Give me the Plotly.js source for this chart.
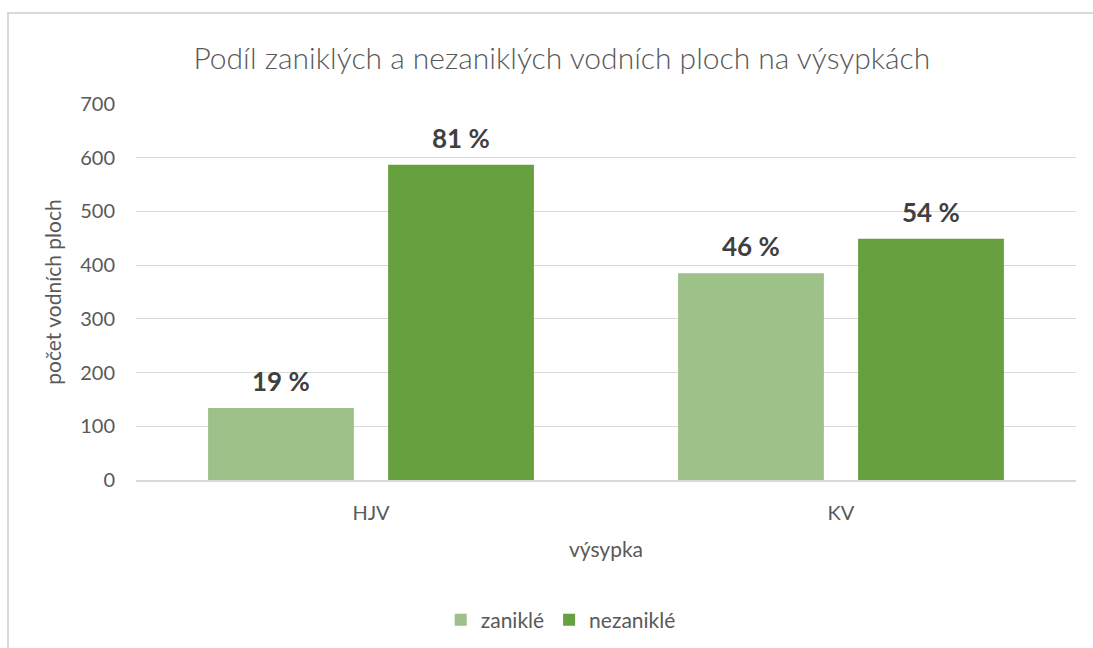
<!DOCTYPE html>
<html>
<head>
<meta charset="utf-8">
<script src="https://cdn.plot.ly/plotly-3.0.1.min.js"></script>
<style>
html,body{margin:0;padding:0;overflow:hidden;background:#fff;}
#wrap{position:relative;width:1093px;height:648px;}
#chart{position:absolute;left:0;top:0;width:1093px;height:648px;}
#frame{position:absolute;left:7px;top:12px;width:1200px;height:1000px;border-left:2px solid #d9d9d9;border-top:2px solid #d9d9d9;pointer-events:none;}
</style>
</head>
<body>
<div id="wrap"><div id="chart"></div><div id="frame"></div></div>
<script>
const categories = ["HJV", "KV"];
const zanikle = [134, 385];
const nezanikle = [587, 449];
const zanikleLabels = ["19 %", "46 %"];
const nezanikleLabels = ["81 %", "54 %"];
const yTicks = [0, 100, 200, 300, 400, 500, 600, 700];

const FONT = "Lato, 'Open Sans', sans-serif";
const labelFont = {family: FONT, size: 26, color: "#404040", weight: 700};
const GREY = "#595959";

const traces = [
  {
    type: "bar", name: "zaniklé", x: categories, y: zanikle,
    marker: {color: "#9dc189"}, hoverinfo: "skip"
  },
  {
    type: "bar", name: "nezaniklé", x: categories, y: nezanikle,
    marker: {color: "#66a03f"}, hoverinfo: "skip"
  }
];

// data labels placed above each bar (offset to the bar's slot within its group)
const annotations = [];
categories.forEach((c, i) => {
  annotations.push({x: c, y: zanikle[i], xref: "x", yref: "y", text: zanikleLabels[i],
    showarrow: false, xshift: -90, yshift: 27, yanchor: "middle", font: labelFont});
  annotations.push({x: c, y: nezanikle[i], xref: "x", yref: "y", text: nezanikleLabels[i],
    showarrow: false, xshift: 90, yshift: 27, yanchor: "middle", font: labelFont});
});

const layout = {
  width: 1093, height: 648,
  margin: {l: 136, r: 17, t: 104, b: 168},
  paper_bgcolor: "#ffffff", plot_bgcolor: "#ffffff",
  font: {family: FONT, color: GREY, size: 20},
  title: {
    text: "Podíl zaniklých a nezaniklých vodních ploch na výsypkách",
    font: {family: FONT, size: 30, color: GREY, weight: 300},
    x: 0.514, xref: "container", xanchor: "center",
    y: 0.91, yref: "container", yanchor: "middle"
  },
  barmode: "group",
  bargap: 0.234,
  bargroupgap: 0.19,
  xaxis: {
    type: "category",
    showgrid: false, zeroline: false,
    showline: true, linecolor: "#d9d9d9", linewidth: 1.5,
    ticks: "", ticklabelstandoff: 14,
    tickfont: {family: FONT, size: 20, color: GREY},
    title: {text: "výsypka", font: {family: FONT, size: 21, color: GREY}, standoff: 20}
  },
  yaxis: {
    range: [0, 700], tickvals: yTicks, ticktext: yTicks.map(String),
    showgrid: true, gridcolor: "#d9d9d9", gridwidth: 1.2,
    zeroline: false, showline: false,
    ticks: "", ticklabelstandoff: 20,
    tickfont: {family: FONT, size: 20, color: GREY},
    title: {text: "počet vodních ploch", font: {family: FONT, size: 21, color: GREY}, standoff: 12}
  },
  annotations: annotations,
  showlegend: true,
  legend: {
    orientation: "h", x: 0.513, xref: "container", xanchor: "center",
    y: 0.043, yref: "container", yanchor: "middle",
    font: {family: FONT, size: 21, color: GREY},
    itemwidth: 30, traceorder: "normal"
  }
};

Plotly.newPlot("chart", traces, layout, {displayModeBar: false, staticPlot: true});
</script>
</body>
</html>
